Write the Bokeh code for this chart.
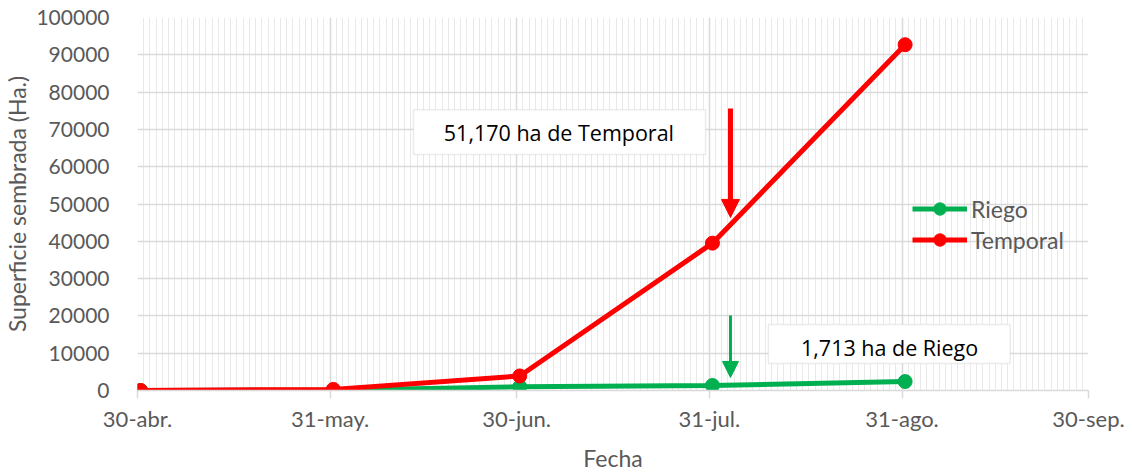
import pandas as pd
from bokeh.plotting import figure
from bokeh.models import (FixedTicker, Range1d, BoxAnnotation, Label, Arrow,
                          NormalHead, Legend, LegendItem, NumeralTickFormatter)
from bokeh.embed import file_html
from bokeh.resources import INLINE

# ---------------- data ----------------
fechas = ["2020-04-30 12:00", "2020-05-31 12:00", "2020-06-30 12:00",
          "2020-07-31 12:00", "2020-08-31 12:00"]
riego = [0, 100, 1000, 1350, 2400]
temporal = [0, 300, 3900, 39500, 92700]

tick_fechas = ["2020-04-30", "2020-05-31", "2020-06-30", "2020-07-31",
               "2020-08-31", "2020-09-30"]
tick_labels = ["30-abr.", "31-may.", "30-jun.", "31-jul.", "31-ago.", "30-sep."]
y_ticks = [0, 10000, 20000, 30000, 40000, 50000, 60000, 70000, 80000, 90000, 100000]

nota_temporal = "51,170 ha de Temporal"
nota_riego = "1,713 ha de Riego"

# ---------------- helpers ----------------
start = pd.Timestamp(tick_fechas[0])
def dnum(s):
    return (pd.Timestamp(s) - start).total_seconds() / 86400.0

x = [dnum(f) for f in fechas]
tick_x = [int(dnum(f)) for f in tick_fechas]

GRAY = "#595959"
FONT = "Lato"

p = figure(width=1132, height=474, output_backend="svg", toolbar_location=None,
           x_range=Range1d(tick_x[0], tick_x[-1]), y_range=Range1d(0, 100000),
           min_border_left=137, min_border_right=44, min_border_top=17,
           min_border_bottom=84)
p.outline_line_color = None
p.background_fill_color = "white"

# axes
xt = FixedTicker(ticks=tick_x, minor_ticks=list(range(tick_x[0], tick_x[-1] + 1)))
p.xaxis.ticker = xt
p.xaxis.major_label_overrides = {t: l for t, l in zip(tick_x, tick_labels)}
p.xaxis.axis_line_color = "#d9d9d9"
p.xaxis.axis_line_width = 1.5
p.xaxis.major_tick_line_color = "#d9d9d9"
p.xaxis.major_tick_line_width = 1.5
p.xaxis.major_tick_in = 0
p.xaxis.major_tick_out = 8
p.xaxis.minor_tick_line_color = None
p.xaxis.major_label_standoff = 6
p.xaxis.axis_label = "Fecha"
p.xaxis.axis_label_standoff = 9

p.yaxis.ticker = FixedTicker(ticks=y_ticks)
p.yaxis.formatter = NumeralTickFormatter(format="0")
p.yaxis.axis_line_color = None
p.yaxis.major_tick_line_color = None
p.yaxis.minor_tick_line_color = None
p.yaxis.major_label_standoff = 22
p.yaxis.axis_label = "Superficie sembrada (Ha.)"
p.yaxis.axis_label_standoff = 2

for ax in (p.xaxis, p.yaxis):
    ax.major_label_text_font = FONT
    ax.major_label_text_color = GRAY
    ax.axis_label_text_font = FONT
    ax.axis_label_text_font_size = "23px"
    ax.axis_label_text_color = GRAY
    ax.axis_label_text_font_style = "normal"
p.xaxis.major_label_text_font_size = "22px"
p.yaxis.major_label_text_font_size = "21px"

# grids
p.xgrid.ticker = xt
p.xgrid.grid_line_color = "#d9d9d9"
p.xgrid.grid_line_width = 1.5
p.xgrid.minor_grid_line_color = "#e9e9e9"
p.xgrid.minor_grid_line_width = 1
p.ygrid.grid_line_color = "#d9d9d9"
p.ygrid.grid_line_width = 1.5

# series
GREEN = "#00b050"
RED = "#ff0000"
lg = p.line(x, riego, line_color=GREEN, line_width=5)
sg = p.scatter(x, riego, size=14, fill_color=GREEN, line_color=GREEN)
lr = p.line(x, temporal, line_color=RED, line_width=5)
sr = p.scatter(x, temporal, size=14, fill_color=RED, line_color=RED)

legend = Legend(items=[LegendItem(label="Riego", renderers=[lg, sg]),
                       LegendItem(label="Temporal", renderers=[lr, sr])],
                location=(775, 135), glyph_width=55, glyph_height=31,
                label_height=31, spacing=0, padding=0, margin=0,
                label_standoff=4, label_text_font=FONT,
                label_text_font_size="23px", label_text_color=GRAY,
                border_line_color=None, background_fill_alpha=0)
p.add_layout(legend)

# annotations (boxes + text)
p.add_layout(BoxAnnotation(left=44.4, right=91.4, bottom=63300, top=75300,
                           fill_color="white", fill_alpha=1,
                           line_color="#bfbfbf", line_width=1.5))
p.add_layout(Label(x=67.8, y=69200, text=nota_temporal, text_align="center",
                   text_baseline="middle", text_font="Open Sans",
                   text_font_size="21.5px", text_color="black"))
p.add_layout(BoxAnnotation(left=101.5, right=140.4, bottom=7250, top=17700,
                           fill_color="white", fill_alpha=1,
                           line_color="#bfbfbf", line_width=1.5))
p.add_layout(Label(x=121.0, y=11500, text=nota_riego, text_align="center",
                   text_baseline="middle", text_font="Open Sans",
                   text_font_size="21.5px", text_color="black"))

# arrows
p.add_layout(Arrow(end=NormalHead(size=18, fill_color=RED, line_color=RED),
                   x_start=95.4, y_start=75600, x_end=95.4, y_end=46400,
                   line_color=RED, line_width=5))
p.add_layout(Arrow(end=NormalHead(size=16, fill_color=GREEN, line_color=GREEN),
                   x_start=95.4, y_start=20100, x_end=95.4, y_end=3500,
                   line_color=GREEN, line_width=3))

open("out.html", "w").write(file_html(p, INLINE))
